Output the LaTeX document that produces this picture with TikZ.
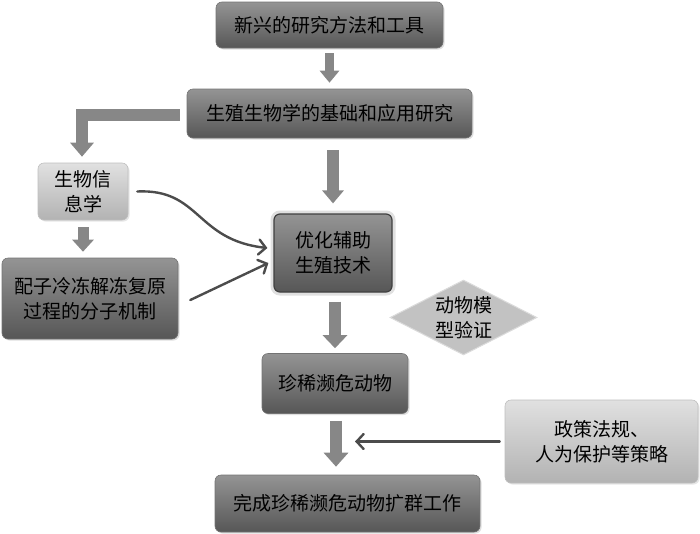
\documentclass[tikz,border=0pt]{standalone}
\usepackage{fontspec}
\setmainfont{Noto Sans CJK SC}
\usetikzlibrary{arrows.meta,shapes.geometric,shadows}
\begin{document}
\begin{tikzpicture}[x=1pt,y=-1pt,
  txt/.style={font=\fontsize{19pt}{25pt}\selectfont, align=center, text=black},
  darkbox/.style={txt, rounded corners=6pt, top color=black!42, bottom color=black!66,
    draw=black!55, line width=0.6pt, inner sep=0pt,
    drop shadow={opacity=0.25, shadow xshift=1.5pt, shadow yshift=-1.5pt}},
  lightbox/.style={txt, rounded corners=6pt, top color=black!12, bottom color=black!30,
    draw=black!25, line width=0.6pt, inner sep=0pt,
    drop shadow={opacity=0.2, shadow xshift=1.5pt, shadow yshift=-1.5pt}},
  blockarrow/.style={draw=black!47, line width=#1, line join=miter},
  thinarrow/.style={draw=black!70, line width=2.4pt, line cap=round,
    -{Straight Barb[length=7pt,width=15pt,line cap=round]}}
]
\useasboundingbox (0,0) rectangle (700,533);

% nodes
\node[darkbox, minimum width=227pt, minimum height=46pt] (box1) at (329.5,25) {新兴的研究方法和工具};
\node[darkbox, minimum width=285pt, minimum height=49pt] (box2) at (329.5,113.5) {生殖生物学的基础和应用研究};
\node[lightbox, minimum width=90pt, minimum height=57pt] (bio) at (83,191.5) {生物信\\息学};
\node[darkbox, minimum width=176pt, minimum height=81pt] (gam) at (90,298.5) {配子冷冻解冻复原\\过程的分子机制};
\node[darkbox, minimum width=118pt, minimum height=78pt, draw=black!75, line width=1.2pt,
  preaction={draw=black!12, line width=7pt}] (opt) at (333,253) {优化辅助\\生殖技术};
\node[diamond, fill=black!24, draw=black!14, line width=1pt, inner sep=0pt,
  minimum width=147pt, minimum height=75pt] (valid) at (463.5,317.5) {};
\node[txt] (validtxt) at (valid.center) {动物模\\型验证};
\node[darkbox, minimum width=146pt, minimum height=60pt] (rare) at (335,383.5) {珍稀濒危动物};
\node[lightbox, minimum width=193pt, minimum height=83pt] (pol) at (601.5,441.5) {政策法规、\\人为保护等策略};
\node[darkbox, minimum width=265pt, minimum height=57pt] (fin) at (347.5,503.5) {完成珍稀濒危动物扩群工作};

% block arrows
\draw[blockarrow=9pt, -{Triangle[width=19pt,length=12pt]}, shorten <=5pt, shorten >=6pt]
  (box1.south) -- (box2.north);
\draw[blockarrow=12pt, -{Triangle[width=21pt,length=13pt]}, shorten <=12pt, shorten >=10pt]
  (box2.south -| opt.north) -- (opt.north);
\draw[blockarrow=12pt, -{Triangle[width=23pt,length=14pt]}]
  ([xshift=-7pt,yshift=-1pt]box2.west) -| ([xshift=-1pt,yshift=6pt]bio.north);
\draw[blockarrow=11pt, -{Triangle[width=21pt,length=12pt]}, shorten <=7pt, shorten >=6pt]
  (bio.south) -- (bio.south |- gam.north);
\draw[blockarrow=12pt, -{Triangle[width=24pt,length=13pt]}, shorten <=9pt, shorten >=5pt]
  (opt.south -| rare.north) -- (rare.north);
\draw[blockarrow=12pt, -{Triangle[width=24pt,length=14pt]}, shorten <=7pt, shorten >=8pt]
  ([xshift=1pt]rare.south) -- ([xshift=1pt]rare.south |- fin.north);

% thin arrows
\draw[thinarrow] ([xshift=9pt]bio.east) .. controls +(63,-3) and +(-72,-8) .. ([xshift=-6pt,yshift=5pt]opt.west);
\draw[thinarrow] ([xshift=12pt,yshift=-1.5pt]gam.east) -- ([xshift=-5pt,yshift=-10pt]opt.west);
\coordinate (polend) at ([xshift=20pt]rare.south |- pol.west);
\draw[thinarrow] ([xshift=-5pt]pol.west) -- (polend);
\end{tikzpicture}
\end{document}
